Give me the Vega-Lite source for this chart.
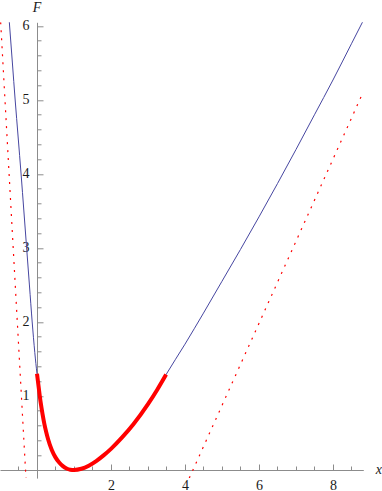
{
  "$schema": "https://vega.github.io/schema/vega-lite/v6.json",
  "width": 363.3,
  "height": 455.8,
  "autosize": "none",
  "padding": {"left": 0, "top": 22.3, "right": 18.7, "bottom": 12.9},
  "background": "white",
  "config": {"view": {"stroke": null}, "axis": {"grid": false}},
  "datasets": {
    "curve": [
      {"x": -0.77, "F": 6.2},
      {"x": -0.74, "F": 6.0},
      {"x": -0.665, "F": 5.5},
      {"x": -0.59, "F": 5.0},
      {"x": -0.51, "F": 4.5},
      {"x": -0.43, "F": 4.0},
      {"x": -0.355, "F": 3.5},
      {"x": -0.28, "F": 3.0},
      {"x": -0.205, "F": 2.5},
      {"x": -0.13, "F": 2.0},
      {"x": -0.06, "F": 1.59},
      {"x": 0.0, "F": 1.3},
      {"x": 0.05, "F": 1.1},
      {"x": 0.1, "F": 0.91},
      {"x": 0.15, "F": 0.755},
      {"x": 0.2, "F": 0.62},
      {"x": 0.25, "F": 0.51},
      {"x": 0.3, "F": 0.415},
      {"x": 0.4, "F": 0.27},
      {"x": 0.5, "F": 0.17},
      {"x": 0.6, "F": 0.1},
      {"x": 0.7, "F": 0.052},
      {"x": 0.8, "F": 0.02},
      {"x": 0.9, "F": 0.004},
      {"x": 1.0, "F": 0.0},
      {"x": 1.2, "F": 0.016},
      {"x": 1.4, "F": 0.058},
      {"x": 1.6, "F": 0.12},
      {"x": 1.8, "F": 0.197},
      {"x": 2.0, "F": 0.285},
      {"x": 2.3, "F": 0.44},
      {"x": 2.6, "F": 0.615},
      {"x": 3.0, "F": 0.89},
      {"x": 3.25, "F": 1.085},
      {"x": 3.49, "F": 1.29},
      {"x": 4.0, "F": 1.7},
      {"x": 4.5, "F": 2.12},
      {"x": 5.0, "F": 2.55},
      {"x": 5.5, "F": 2.98},
      {"x": 6.0, "F": 3.42},
      {"x": 6.5, "F": 3.87},
      {"x": 7.0, "F": 4.33},
      {"x": 7.5, "F": 4.8},
      {"x": 8.0, "F": 5.27},
      {"x": 8.5, "F": 5.76},
      {"x": 9.0, "F": 6.25}
    ],
    "asymptotes": [
      {"side": "left", "x": -0.982, "F": 6.05},
      {"side": "left", "x": -0.298, "F": -0.11},
      {"side": "right", "x": 4.116, "F": -0.11},
      {"side": "right", "x": 8.82, "F": 5.11}
    ],
    "labels": [
      {"x": 0.0, "F": 6.25, "text": "F"},
      {"x": 9.24, "F": 0.0, "text": "x"}
    ]
  },
  "resolve": {"axis": {"x": "independent", "y": "independent"}},
  "layer": [
    {
      "data": {"name": "curve"},
      "mark": {"type": "line", "color": "#4646a0", "strokeWidth": 1, "interpolate": "monotone", "clip": true},
      "encoding": {
        "x": {
          "field": "x", "type": "quantitative",
          "scale": {"domain": [-1, 8.82], "nice": false, "zero": false},
          "axis": {"orient": "bottom", "offset": -8.1, "title": null, "values": [2, 4, 6, 8],
            "tickSize": -6, "tickColor": "#8c8c8c", "domainColor": "#8c8c8c", "domainWidth": 1,
            "labelFont": "Liberation Serif", "labelFontSize": 14, "labelColor": "#1a1a1a", "labelPadding": 14, "labelFlush": false}
        },
        "y": {
          "field": "F", "type": "quantitative",
          "scale": {"domain": [-0.11, 6.05], "nice": false, "zero": false},
          "axis": {"orient": "left", "offset": -37, "title": null, "values": [1, 2, 3, 4, 5, 6],
            "tickSize": -6, "tickColor": "#8c8c8c", "domainColor": "#8c8c8c", "domainWidth": 1,
            "labelFont": "Liberation Serif", "labelFontSize": 14, "labelColor": "#1a1a1a", "labelPadding": 14, "labelFlush": false}
        }
      }
    },
    {
      "data": {"name": "curve"},
      "transform": [{"filter": "datum.x >= 0 && datum.x <= 3.49"}],
      "mark": {"type": "line", "color": "#ff0000", "strokeWidth": 4, "interpolate": "monotone", "clip": true},
      "encoding": {
        "x": {
          "field": "x", "type": "quantitative",
          "axis": {"orient": "bottom", "offset": -8.1, "title": null, "labels": false, "domain": false,
            "values": [-0.5, 0.5, 1, 1.5, 2.5, 3, 3.5, 4.5, 5, 5.5, 6.5, 7, 7.5, 8.5],
            "tickSize": -4, "tickColor": "#8c8c8c"}
        },
        "y": {
          "field": "F", "type": "quantitative",
          "axis": {"orient": "left", "offset": -37, "title": null, "labels": false, "domain": false,
            "values": [0.2, 0.4, 0.6, 0.8, 1.2, 1.4, 1.6, 1.8, 2.2, 2.4, 2.6, 2.8, 3.2, 3.4, 3.6, 3.8, 4.2, 4.4, 4.6, 4.8, 5.2, 5.4, 5.6, 5.8],
            "tickSize": -4, "tickColor": "#8c8c8c"}
        }
      }
    },
    {
      "data": {"name": "asymptotes"},
      "mark": {"type": "line", "color": "#ff0000", "strokeWidth": 1.2, "strokeDash": [2, 6], "clip": true},
      "encoding": {
        "x": {"field": "x", "type": "quantitative", "axis": null},
        "y": {"field": "F", "type": "quantitative", "axis": null},
        "detail": {"field": "side"}
      }
    },
    {
      "data": {"name": "labels"},
      "mark": {"type": "text", "font": "Liberation Serif", "fontStyle": "italic", "fontSize": 14, "color": "#1a1a1a", "align": "center", "baseline": "middle"},
      "encoding": {
        "x": {"field": "x", "type": "quantitative", "axis": null},
        "y": {"field": "F", "type": "quantitative", "axis": null},
        "text": {"field": "text"}
      }
    }
  ]
}
